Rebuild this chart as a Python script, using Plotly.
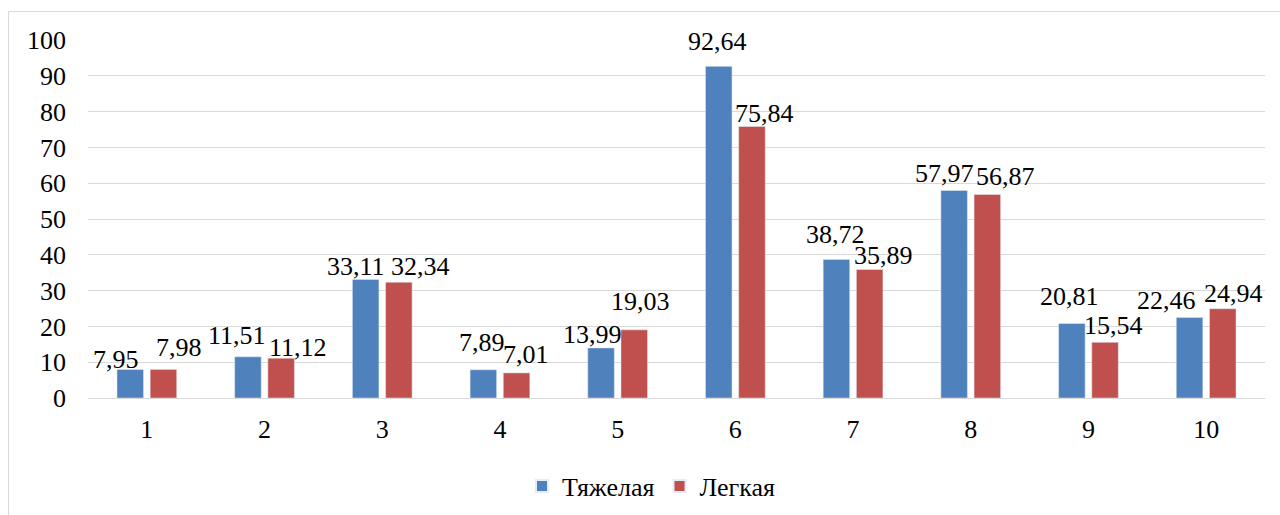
import plotly.graph_objects as go

categories = ["1", "2", "3", "4", "5", "6", "7", "8", "9", "10"]
heavy = [7.95, 11.51, 33.11, 7.89, 13.99, 92.64, 38.72, 57.97, 20.81, 22.46]
light = [7.98, 11.12, 32.34, 7.01, 19.03, 75.84, 35.89, 56.87, 15.54, 24.94]
series_names = ["Тяжелая", "Легкая"]
y_ticks = [0, 10, 20, 30, 40, 50, 60, 70, 80, 90, 100]

# label placement offsets (pixels) — style only
heavy_dx = [-31, -28, -26.5, -17.7, -25, -18, -18, -26.5, -19, -39.4]
heavy_dy = [10, 21, 13, 27, 13, 25, 25, 16.5, 27, 17.5]
light_dx = [32.5, 33, 38, 26.5, 23, 29.4, 30, 35, 25, 27]
light_dy = [22, 11, 16, 18, 28, 12.5, 14.5, 18, 17, 15]

BLUE = "#4F81BD"
RED = "#C0504D"
FONT = "Liberation Serif"
FS = 26

def fmt(v):
    return f"{v:.2f}".replace(".", ",")

fig = go.Figure()
fig.add_trace(go.Bar(x=categories, y=heavy, name=series_names[0], marker_color=BLUE))
fig.add_trace(go.Bar(x=categories, y=light, name=series_names[1], marker_color=RED))

annotations = []
for vals, dxs, dys in [(heavy, heavy_dx, heavy_dy), (light, light_dx, light_dy)]:
    for i, (v, dx, dy) in enumerate(zip(vals, dxs, dys)):
        annotations.append(dict(
            x=i, y=v, xref="x", yref="y", text=fmt(v), showarrow=False,
            xanchor="center", yanchor="middle", xshift=dx, yshift=dy,
            font=dict(family=FONT, size=FS, color="#000000"),
        ))

L, R, T, B = 88, 15, 40, 117
W, H = 1280, 515
pw, ph = W - L - R, H - T - B

fig.update_layout(
    width=W, height=H,
    margin=dict(l=L, r=R, t=T, b=B, pad=0, autoexpand=False),
    paper_bgcolor="white", plot_bgcolor="white",
    barmode="group", bargap=0.436, bargroupgap=0.2,
    font=dict(family=FONT, size=FS, color="#000000"),
    showlegend=True,
    legend=dict(orientation="h", x=(651 - L) / pw, xanchor="center",
                y=(T + ph - 486) / ph, yanchor="middle",
                font=dict(family=FONT, size=FS, color="#000000"),
                itemsizing="constant", tracegroupgap=0),
    annotations=annotations,
    shapes=[dict(type="rect", xref="paper", yref="paper",
                 x0=(8.5 - L) / pw, x1=1.2, y0=-0.6, y1=1 + (T - 11.5) / ph,
                 line=dict(color="#D9D9D9", width=1), fillcolor="rgba(0,0,0,0)", layer="below")],
    xaxis=dict(type="category", showgrid=False, showline=True, linecolor="#D9D9D9",
               linewidth=1, ticks="", tickfont=dict(family=FONT, size=FS, color="#000000"),
               ticklabelstandoff=8, automargin=False, range=[-0.5, 9.5], fixedrange=True),
    yaxis=dict(range=[0, 100], tickvals=y_ticks, showgrid=True, gridcolor="#D9D9D9",
               gridwidth=1, zeroline=False, showline=False, ticks="",
               tickfont=dict(family=FONT, size=FS, color="#000000"),
               ticklabelstandoff=21, automargin=False, fixedrange=True),
)

fig.write_html("out.html", config={"displayModeBar": False})
